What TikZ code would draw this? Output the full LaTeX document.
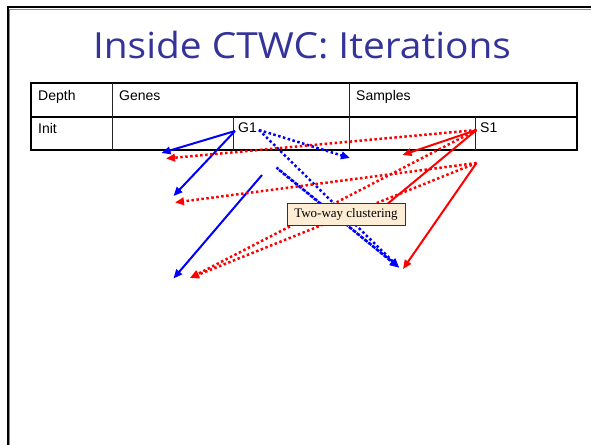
\documentclass[tikz,border=0pt]{standalone}
\usepackage{fontspec}
\setmainfont{Liberation Sans}
\newfontfamily\titlefont{Open Sans}
\newfontfamily\tagfont{Liberation Serif}
\usetikzlibrary{arrows.meta}
\definecolor{titleblue}{RGB}{51,51,153}
\definecolor{tagfill}{RGB}{252,237,212}
\definecolor{arrred}{RGB}{255,0,0}
\definecolor{arrblue}{RGB}{0,0,255}

\begin{document}
\begin{tikzpicture}[x=1pt,y=-1pt,
  cell/.style={anchor=base west, inner sep=0pt, font=\fontsize{14}{16}\selectfont},
  headtip/.style={-{Triangle[length=9pt,width=7.5pt]}},
  solidarrow/.style={headtip, line width=2pt},
  dotarrow/.style={headtip, line width=2.5pt, dash pattern=on 2.5pt off 2.5pt},
  tablerule/.style={line width=1.5pt, black},
  cellrule/.style={line width=1pt, black!85},
  tagbox/.style={draw=black!80, line width=1pt, fill=tagfill, inner sep=0pt,
    minimum width=118pt, minimum height=22pt, font=\tagfont\fontsize{13}{15}\selectfont}
]
\useasboundingbox (0,0) rectangle (591,444);
\fill[white] (0,0) rectangle (591,444);

% slide frame, running off the right and bottom edges
\begin{scope}
  \clip (0,0) rectangle (591,444);
  \draw[black, line width=2pt] (7.5,470) |- (620,7.5);
  \draw[black!45, line width=1pt] (9.5,470) |- (620,9.5);
\end{scope}

% title
\node[text=titleblue, font=\titlefont\fontsize{36}{40}\selectfont, anchor=base, inner sep=0pt]
  (title) at (302,58.5) {\scalebox{1.08}[1]{Inside CTWC: Iterations}};

% table
\draw[tablerule] (31,83) rectangle (577,150);
\draw[tablerule] (31,117) -- (577,117);
\draw[cellrule] (112,83) -- (112,150);
\draw[cellrule] (349,83) -- (349,150);
\draw[cellrule] (233,117) -- (233,150);
\draw[cellrule] (475,117) -- (475,150);

\node[cell] (depth)   at (38,100)  {Depth};
\node[cell] (genes)   at (119,100) {Genes};
\node[cell] (samples) at (356,100) {Samples};
\node[cell] (init)    at (38,133)  {Init};
\node[cell] (g1)      at (238,132) {G1};
\node[cell] (s1)      at (480,132) {S1};

% arrow origins
\coordinate (g1l) at (235,131);
\coordinate (g1r) at (259,130);
\coordinate (g2)  at (262,175);
\coordinate (g3a) at (276.5,167.5);
\coordinate (g3b) at (279,170);
\coordinate (s1p) at (476.5,130);
\coordinate (s2p) at (476.5,163);

% arrow ends
\coordinate (bA) at (161.5,153);
\coordinate (bB) at (173.5,196);
\coordinate (bC) at (173.5,278.5);
\coordinate (bD) at (350,158);
\coordinate (bE) at (399,267.5);
\coordinate (rA) at (166,158.5);
\coordinate (rB) at (402.5,155);
\coordinate (rC) at (368,220);
\coordinate (rD) at (175,202.5);
\coordinate (rE) at (190,278);
\coordinate (rF) at (403,269);

% gene clusters
\draw[solidarrow, arrblue] (g1l) -- (bA);
\draw[solidarrow, arrblue] (g1l) -- (bB);
\draw[solidarrow, arrblue] (g2) -- (bC);
\draw[dotarrow, arrblue] (g1r) -- (bD);
\draw[dotarrow, arrblue] (g1r) -- (bE);
\draw[dotarrow, arrblue] (g3a) -- (bE);
\draw[dotarrow, arrblue] (g3b) -- (bE);

% sample clusters
\draw[dotarrow, arrred] (s1p) -- (rA);
\draw[solidarrow, arrred] (s1p) -- (rB);
\draw[solidarrow, arrred] (s1p) -- (rC);
\draw[dotarrow, arrred] (s1p) -- (rE);
\draw[dotarrow, arrred] (s2p) -- (rD);
\draw[dotarrow, arrred] (s2p) -- (rE);
\draw[solidarrow, arrred] (s2p) -- (rF);

% label on top of the connectors
\node[tagbox] (tag) at (346,214) {Two-way clustering};
\end{tikzpicture}
\end{document}
